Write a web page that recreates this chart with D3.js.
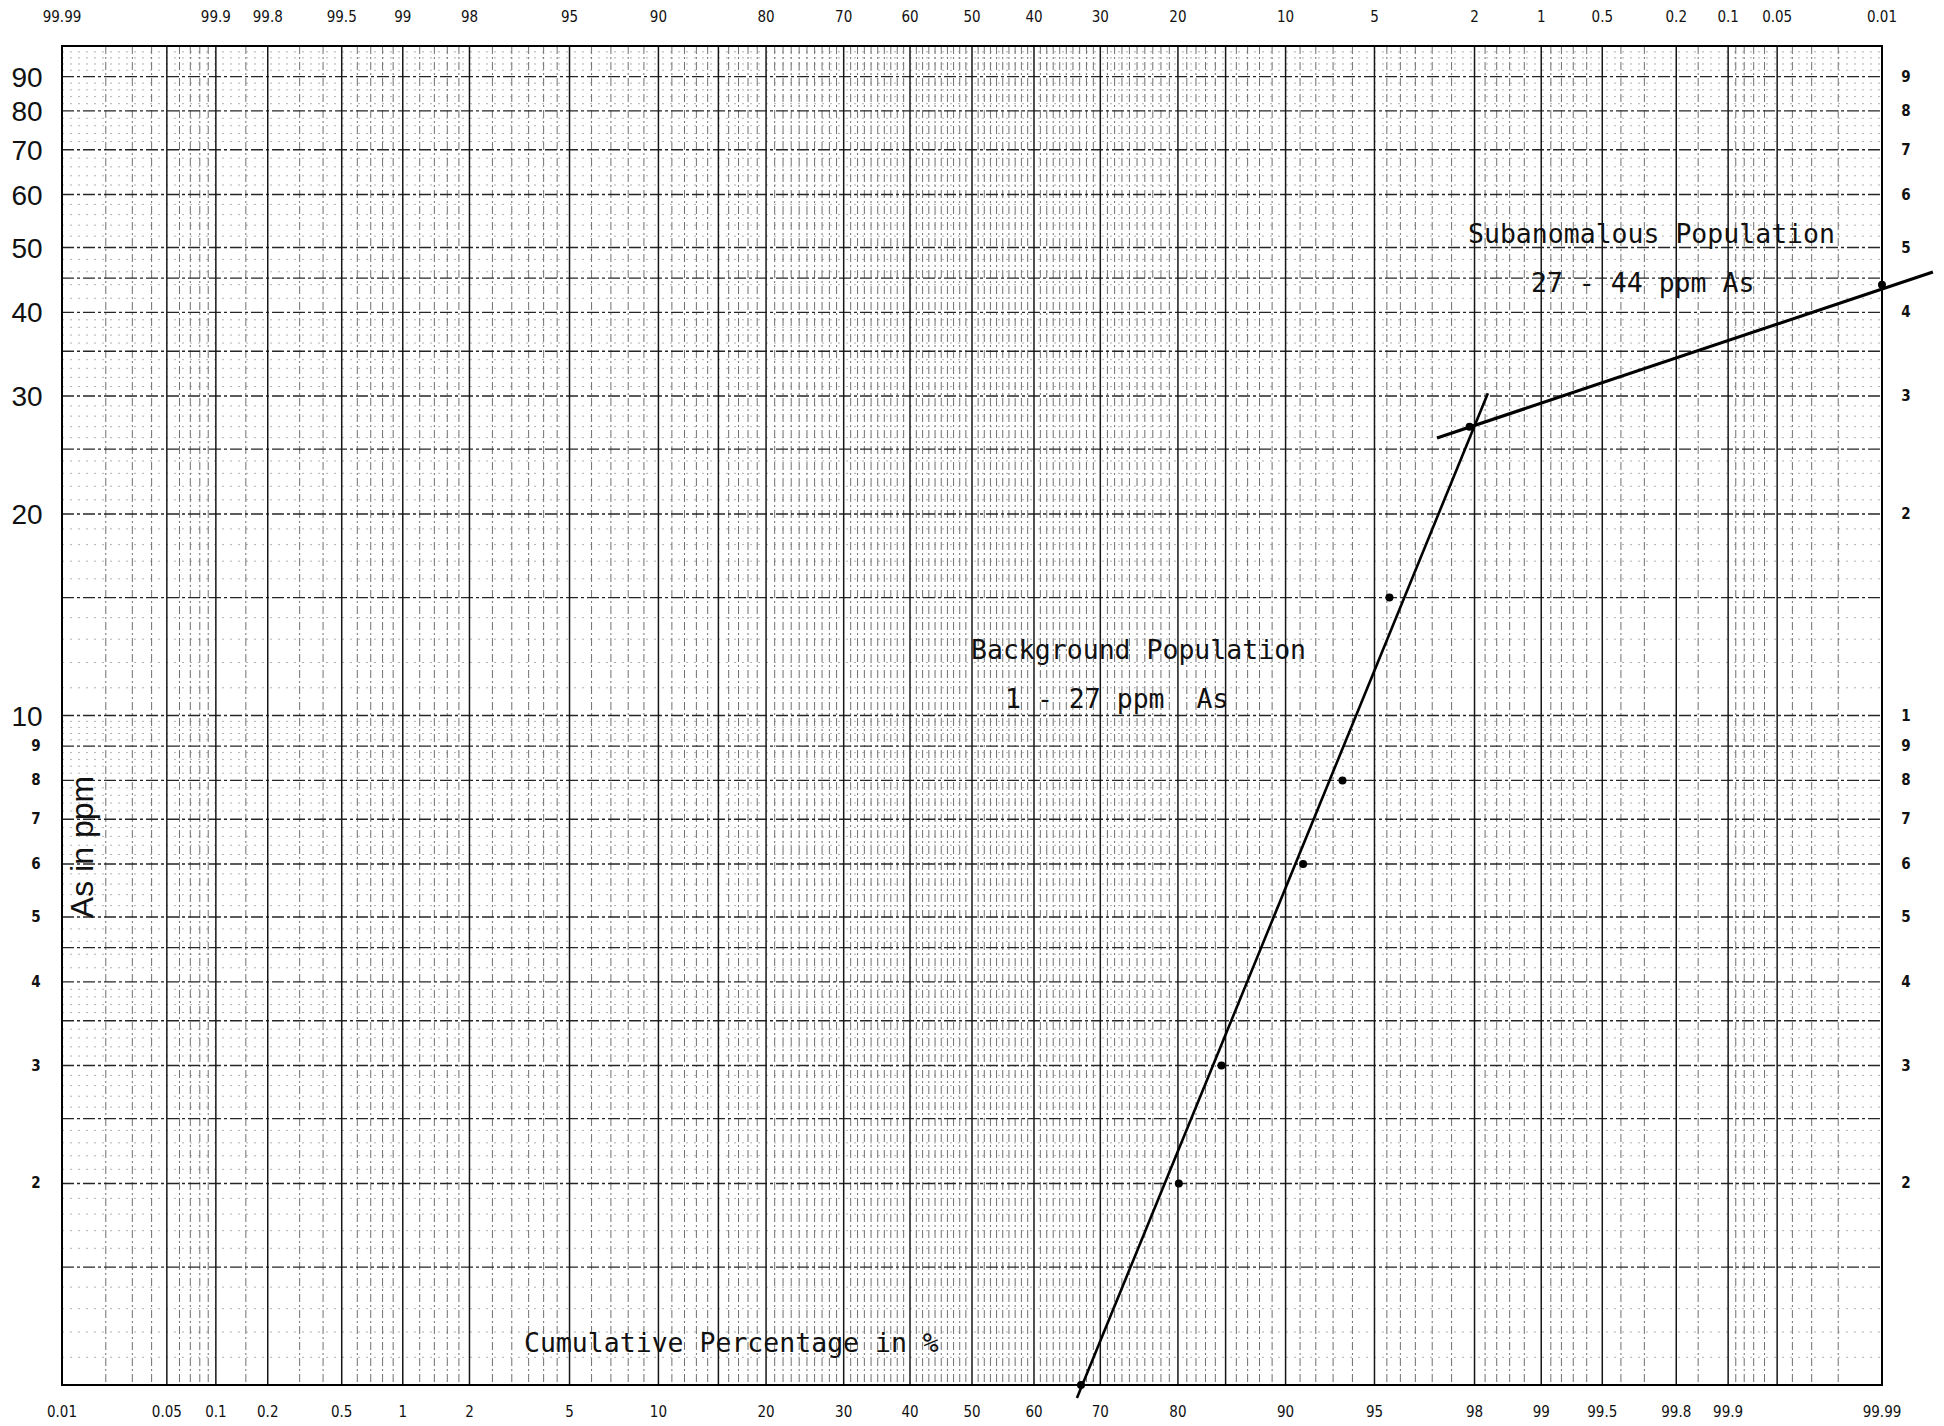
<!DOCTYPE html>
<html>
<head>
<meta charset="utf-8">
<script src="https://cdn.jsdelivr.net/npm/d3@7"></script>
<style>
  html, body { margin: 0; padding: 0; background: #ffffff; }
  svg { display: block; }
</style>
</head>
<body>
<svg id="chart" width="1944" height="1426"></svg>
<script>
// ---------------- DATA ----------------
// Plotted sample points: cumulative percentage (bottom scale) vs As in ppm
const pointPercent = [67.2, 80.1, 84.6, 91.2, 93.5, 95.6, 97.9, 99.99];
const pointPpm     = [1.0, 2.0, 3.0, 6.0, 8.0, 15.0, 27.0, 44.0];

// Hand-fitted population lines (end points)
const backgroundLinePercent = [66.6, 98.25];
const backgroundLinePpm     = [0.956, 30.3];
const subanomalousLinePercent = [97.13, 99.9957];
const subanomalousLinePpm     = [25.97, 45.97];

// Tick labels
const bottomTicks = [0.01, 0.05, 0.1, 0.2, 0.5, 1, 2, 5, 10, 20, 30, 40, 50, 60, 70, 80, 90, 95, 98, 99, 99.5, 99.8, 99.9, 99.99];
const topTicks = ["99.99", "99.9", "99.8", "99.5", "99", "98", "95", "90", "80", "70", "60", "50", "40", "30", "20", "10", "5", "2", "1", "0.5", "0.2", "0.1", "0.05", "0.01"];
const leftLargeTicks = [90, 80, 70, 60, 50, 40, 30, 20, 10];
const leftSmallTicks = [9, 8, 7, 6, 5, 4, 3, 2];
const rightTicks = [90, 80, 70, 60, 50, 40, 30, 20, 10, 9, 8, 7, 6, 5, 4, 3, 2];
const rightTickText = ["9", "8", "7", "6", "5", "4", "3", "2", "1", "9", "8", "7", "6", "5", "4", "3", "2"];

// Probability-paper grid (percent values, lower half; mirrored for the upper half)
const majorPercentGrid = [0.01, 0.05, 0.1, 0.2, 0.5, 1, 2, 5, 10, 15, 20, 30, 40, 50, 60, 70, 80, 85, 90, 95, 98, 99, 99.5, 99.8, 99.9, 99.95, 99.99];
const minorPercentLow = [0.02, 0.03, 0.04, 0.06, 0.07, 0.08, 0.09, 0.15, 0.3, 0.4, 0.6, 0.7, 0.8, 0.9,
  1.2, 1.4, 1.6, 1.8, 2.5, 3, 3.5, 4, 4.5, 6, 7, 8, 9, 11, 12, 13, 14, 16, 17, 18, 19,
  21, 22, 23, 24, 25, 26, 27, 28, 29, 31, 32, 33, 34, 35, 36, 37, 38, 39, 41, 42, 43, 44, 45, 46, 47, 48, 49];
// Log grid (ppm values, one cycle; repeated x10)
const midPpmCycle = [1, 1.5, 2, 2.5, 3, 3.5, 4, 4.5, 5, 6, 7, 8, 9];
const minorPpmCycle = [1.1, 1.2, 1.3, 1.4, 1.6, 1.7, 1.8, 1.9, 2.1, 2.2, 2.3, 2.4, 2.6, 2.7, 2.8, 2.9,
  3.1, 3.2, 3.3, 3.4, 3.6, 3.7, 3.8, 3.9, 4.2, 4.4, 4.6, 4.8, 5.2, 5.4, 5.6, 5.8, 6.2, 6.4, 6.6, 6.8,
  7.2, 7.4, 7.6, 7.8, 8.2, 8.4, 8.6, 8.8, 9.2, 9.4, 9.6, 9.8];

// Annotation texts
const labelSubTitle = "Subanomalous Population";
const labelSubRange = "27 - 44 ppm As";
const labelBgTitle = "Background Population";
const labelBgRange = "1 - 27 ppm\u00A0 As";
const labelX = "Cumulative Percentage in %";
const labelY = "As in ppm";

// ---------------- SCALES ----------------
// inverse standard normal CDF (Acklam) for the probability axis transform
function probit(p) {
  const a = [-3.969683028665376e+01, 2.209460984245205e+02, -2.759285104469687e+02, 1.383577518672690e+02, -3.066479806614716e+01, 2.506628277459239e+00];
  const b = [-5.447609879822406e+01, 1.615858368580409e+02, -1.556989798598866e+02, 6.680131188771972e+01, -1.328068155288572e+01];
  const c = [-7.784894002430293e-03, -3.223964580411365e-01, -2.400758277161838e+00, -2.549732539343734e+00, 4.374664141464968e+00, 2.938163982698783e+00];
  const d = [7.784695709041462e-03, 3.224671290700398e-01, 2.445134137142996e+00, 3.754408661907416e+00];
  const pl = 0.02425, ph = 1 - pl;
  let q, r;
  if (p < pl) {
    q = Math.sqrt(-2 * Math.log(p));
    return (((((c[0]*q+c[1])*q+c[2])*q+c[3])*q+c[4])*q+c[5]) / ((((d[0]*q+d[1])*q+d[2])*q+d[3])*q+1);
  } else if (p <= ph) {
    q = p - 0.5; r = q * q;
    return (((((a[0]*r+a[1])*r+a[2])*r+a[3])*r+a[4])*r+a[5])*q / (((((b[0]*r+b[1])*r+b[2])*r+b[3])*r+b[4])*r+1);
  } else {
    q = Math.sqrt(-2 * Math.log(1 - p));
    return -(((((c[0]*q+c[1])*q+c[2])*q+c[3])*q+c[4])*q+c[5]) / ((((d[0]*q+d[1])*q+d[2])*q+d[3])*q+1);
  }
}

const W = 1944, H = 1426;
const margin = { left: 62, right: 62, top: 46, bottom: 41 };
const x0 = margin.left, x1 = W - margin.right, y0 = margin.top, y1 = H - margin.bottom;

const zScale = d3.scaleLinear().domain([probit(0.0001), probit(0.9999)]).range([x0, x1]);
const xp = pct => zScale(probit(pct / 100));
const y = d3.scaleLog().domain([1, 100]).range([y1, y0]);

const svg = d3.select("#chart");
svg.append("rect").attr("width", W).attr("height", H).attr("fill", "#fff");

// ---------------- GRID ----------------
const grid = svg.append("g");
const minorPercent = minorPercentLow.concat(minorPercentLow.map(p => +(100 - p).toFixed(4)));
const minorPpm = minorPpmCycle.concat(minorPpmCycle.map(v => +(v * 10).toFixed(3)));
const midPpm = midPpmCycle.concat(midPpmCycle.map(v => v * 10), [100]);

grid.selectAll("line.hminor").data(minorPpm).join("line")
  .attr("x1", x0).attr("x2", x1).attr("y1", d => y(d)).attr("y2", d => y(d))
  .attr("stroke", "#a8a8a8").attr("stroke-width", 0.9).attr("stroke-dasharray", "2,6");

grid.selectAll("line.vminor").data(minorPercent).join("line")
  .attr("x1", d => xp(d)).attr("x2", d => xp(d)).attr("y1", y0).attr("y2", y1)
  .attr("stroke", "#707070").attr("stroke-width", 1).attr("stroke-dasharray", "8,3,2,3");

grid.selectAll("line.hmid").data(midPpm).join("line")
  .attr("x1", x0).attr("x2", x1).attr("y1", d => y(d)).attr("y2", d => y(d))
  .attr("stroke", "#262626").attr("stroke-width", 1.4).attr("stroke-dasharray", "12,3,3,3");

grid.selectAll("line.vmajor").data(majorPercentGrid).join("line")
  .attr("x1", d => xp(d)).attr("x2", d => xp(d)).attr("y1", y0).attr("y2", y1)
  .attr("stroke", "#161616").attr("stroke-width", 1.5);

// frame
svg.append("rect").attr("x", x0).attr("y", y0).attr("width", x1 - x0).attr("height", y1 - y0)
  .attr("fill", "none").attr("stroke", "#000").attr("stroke-width", 2);

// ---------------- AXES LABELS ----------------
const tickFont = "'DejaVu Sans Condensed', 'DejaVu Sans', sans-serif";
svg.append("g").selectAll("text").data(bottomTicks).join("text")
  .attr("x", d => xp(d)).attr("y", y1 + 32)
  .attr("text-anchor", "middle").attr("font-family", tickFont).attr("font-size", 15).attr("fill", "#111")
  .text(d => String(d));

svg.append("g").selectAll("text").data(topTicks).join("text")
  .attr("x", d => xp(100 - (+d))).attr("y", 22)
  .attr("text-anchor", "middle").attr("font-family", tickFont).attr("font-size", 15).attr("fill", "#111")
  .text(d => d);

svg.append("g").selectAll("text").data(leftLargeTicks).join("text")
  .attr("x", 27).attr("y", d => y(d) + 10)
  .attr("text-anchor", "middle").attr("font-family", "'Liberation Sans', Arial, sans-serif").attr("font-size", 28).attr("fill", "#111")
  .text(d => String(d));

svg.append("g").selectAll("text").data(leftSmallTicks).join("text")
  .attr("x", 36).attr("y", d => y(d) + 5)
  .attr("text-anchor", "middle").attr("font-family", tickFont).attr("font-weight", "bold").attr("font-size", 15).attr("fill", "#111")
  .text(d => String(d));

svg.append("g").selectAll("text").data(rightTicks).join("text")
  .attr("x", 1906).attr("y", d => y(d) + 5)
  .attr("text-anchor", "middle").attr("font-family", tickFont).attr("font-weight", "bold").attr("font-size", 15).attr("fill", "#111")
  .text((d, i) => rightTickText[i]);

// ---------------- FITTED LINES ----------------
const line = d3.line().x(d => xp(d[0])).y(d => y(d[1]));
svg.append("path").datum(d3.zip(backgroundLinePercent, backgroundLinePpm))
  .attr("d", line).attr("fill", "none").attr("stroke", "#000").attr("stroke-width", 2.6);
svg.append("path").datum(d3.zip(subanomalousLinePercent, subanomalousLinePpm))
  .attr("d", line).attr("fill", "none").attr("stroke", "#000").attr("stroke-width", 3.2);

// ---------------- POINTS ----------------
svg.append("g").selectAll("circle").data(d3.zip(pointPercent, pointPpm)).join("circle")
  .attr("cx", d => xp(d[0])).attr("cy", d => y(d[1])).attr("r", 4).attr("fill", "#000");

// ---------------- ANNOTATIONS ----------------
const monoFont = "'DejaVu Sans Mono', 'Liberation Mono', monospace";
const ann = svg.append("g").attr("font-family", monoFont).attr("font-size", 26.5).attr("fill", "#111");
ann.append("text").attr("x", 1468).attr("y", 243).text(labelSubTitle);
ann.append("text").attr("x", 1531).attr("y", 292).text(labelSubRange);
ann.append("text").attr("x", 971).attr("y", 659).text(labelBgTitle);
ann.append("text").attr("x", 1005).attr("y", 708).text(labelBgRange);
ann.append("text").attr("x", 524).attr("y", 1352).text(labelX);

svg.append("text").attr("transform", "translate(93,847) rotate(-90)")
  .attr("text-anchor", "middle").attr("font-family", "'Liberation Sans', Arial, sans-serif")
  .attr("font-size", 32).attr("fill", "#111").text(labelY);
</script>
</body>
</html>
